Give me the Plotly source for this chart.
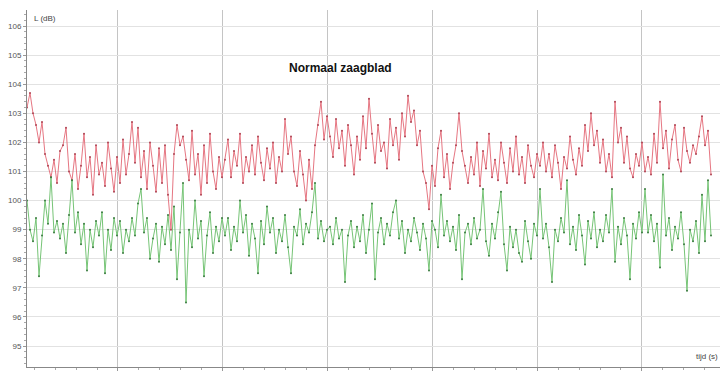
import plotly.graph_objects as go

# Sound level L (dB) per sample
red_levels = [
    103.2, 103.7, 103.0, 102.6, 102.0, 102.7, 101.6, 101.2, 100.8, 101.4, 100.6, 101.7, 101.9, 102.5, 101.0, 100.7,
    101.6, 100.4, 101.2, 102.3, 100.8, 101.5, 100.2, 101.9, 100.9, 101.3, 100.5, 102.0, 101.1, 100.3, 101.5,
    100.6, 102.1, 100.9, 101.6, 102.7, 101.3, 102.5, 100.8, 101.7, 100.4, 102.0, 101.2, 100.3, 101.8, 100.6, 101.9,
    100.2, 99.0, 101.6, 102.6, 101.9, 102.2, 101.4, 100.7, 102.4, 100.9, 101.6, 100.2, 101.9, 100.6, 102.3, 101.0,
    100.4, 101.5, 100.8,
    101.4, 102.1, 100.8, 101.7, 101.2, 102.3, 100.6, 101.5, 101.0, 101.9, 100.9, 102.2, 101.3, 100.7, 101.8, 101.1,
    102.0, 100.6, 101.5, 101.0, 102.8, 101.6, 102.2, 101.0, 100.5, 101.7, 100.9, 100.0, 101.4, 100.4, 101.9, 102.6,
    103.4, 102.1, 102.9,
    102.2, 101.5, 102.8, 101.8, 102.4, 101.2, 102.6, 101.9, 100.9, 102.2, 101.4, 102.9, 101.8, 103.5, 102.3, 101.3,
    102.6, 101.7, 102.0, 101.1, 102.8, 101.9, 102.5, 101.4, 103.0, 102.2, 103.6, 102.7, 103.1, 101.9, 102.4, 101.0,
    100.6, 99.7, 101.2,
    100.5, 101.8, 102.4, 100.8, 101.6, 100.4, 101.3, 101.9, 103.0, 101.7, 101.2, 100.6, 101.5, 100.9, 102.0, 100.5,
    101.7, 101.1, 102.3, 100.8, 101.4, 100.7, 102.0, 101.3, 100.6, 101.8, 101.0, 102.2, 100.9, 101.5, 100.6, 101.9,
    101.2, 100.8, 101.6,
    101.2, 102.0, 101.0, 101.6, 100.8, 101.9, 101.3, 100.4, 101.5, 101.1, 102.2, 101.4, 100.9, 101.8, 101.2, 102.6,
    101.7, 103.0, 101.9, 102.4, 101.3, 102.1, 101.0, 101.6, 100.8, 103.4, 102.0, 102.5, 101.3, 102.2, 101.1, 100.8,
    101.6, 101.2, 102.0,
    101.0, 101.5, 100.9, 102.3, 101.3, 103.4, 101.8, 102.4, 101.1, 102.1, 102.6, 101.4, 101.0, 102.5, 101.7, 101.3,
    101.9, 101.6, 102.2, 102.9, 101.9, 102.4, 100.9,
]

green_levels = [
    100.0, 99.0, 98.6, 99.4, 97.4, 98.8, 100.0, 99.2, 100.8, 98.9, 99.3, 98.7, 99.2, 98.2, 99.5, 100.7,
    98.9, 99.6, 98.5, 99.2, 97.6, 99.0, 98.4, 99.3, 98.8, 99.6, 97.5, 99.0, 98.3, 99.4, 98.8,
    99.3, 98.2, 99.0, 98.6, 99.4, 98.8, 99.9, 100.4, 98.9, 99.4, 98.0, 98.7, 99.2, 97.9, 99.1, 98.5,
    99.5, 98.3, 99.8, 97.3, 98.9, 100.6, 96.5, 99.0, 98.4, 100.0, 98.7, 99.3, 97.4, 98.8, 99.6, 98.2,
    99.1, 98.6, 99.4,
    98.8, 99.4, 98.3, 99.1, 98.6, 100.0, 98.9, 99.5, 98.1, 99.2, 98.7, 97.5, 99.3, 98.5, 99.8, 98.9,
    99.4, 98.2, 99.0, 98.6, 99.5, 98.4, 97.5, 99.1, 98.8, 99.7, 98.5, 99.2, 98.9, 99.6, 100.6, 98.7,
    99.3, 98.6, 99.0,
    99.1, 98.5, 99.4, 98.7, 99.0, 97.2, 98.8, 99.3, 98.4, 99.1, 98.6, 99.5, 98.2, 99.0, 99.9, 97.3,
    98.9, 99.4, 98.5, 99.2, 98.8, 99.6, 100.0, 98.7, 99.3, 98.2, 99.0, 98.6, 99.4, 98.9, 98.3, 99.2,
    98.7, 97.6, 99.3,
    99.0, 98.4, 100.2, 98.8, 99.3, 98.6, 99.1, 98.3, 99.5, 97.3, 98.9, 99.2, 98.5, 99.4, 98.7, 99.0,
    100.4, 98.6, 98.1, 99.2, 98.7, 99.6, 100.3, 98.5, 97.6, 99.1, 98.4, 99.0, 98.2, 97.9, 99.3, 98.6,
    98.0, 99.2, 98.8,
    100.4, 98.7, 99.2, 98.4, 97.2, 99.0, 98.6, 99.4, 98.9, 100.7, 98.5, 99.1, 98.3, 99.5, 98.8, 97.8,
    99.3, 98.7, 99.6, 98.4, 99.0, 98.6, 99.5, 98.9, 100.4, 97.9, 99.1, 98.5, 99.4, 98.8, 97.3, 99.2,
    98.7, 99.6, 98.9,
    100.4, 98.9, 99.5, 98.6, 99.2, 97.7, 100.9, 98.8, 99.4, 98.3, 99.1, 98.7, 99.6, 98.5, 96.9, 99.0,
    98.6, 99.3, 98.2, 100.2, 98.6, 100.7, 98.8,
]

samples = list(range(len(red_levels)))

title_text = "Normaal zaagblad"
y_label = "L (dB)"
x_label = "tijd (s)"
y_ticks = [95, 96, 97, 98, 99, 100, 101, 102, 103, 104, 105, 106]

fig = go.Figure()
fig.add_trace(go.Scatter(
    x=samples, y=red_levels, mode="lines+markers",
    line=dict(color="rgb(230,118,130)", width=1),
    marker=dict(color="rgb(175,70,85)", size=2),
    showlegend=False, hoverinfo="skip",
))
fig.add_trace(go.Scatter(
    x=samples, y=green_levels, mode="lines+markers",
    line=dict(color="rgb(118,196,118)", width=1),
    marker=dict(color="rgb(60,125,65)", size=2),
    showlegend=False, hoverinfo="skip",
))

fig.update_layout(
    width=724, height=372,
    margin=dict(l=27, r=4, t=10, b=5),
    paper_bgcolor="white", plot_bgcolor="white",
    font=dict(family="Liberation Sans, Arial, sans-serif", size=8, color="#555"),
    xaxis=dict(
        range=[0, 231], showticklabels=False, automargin=False,
        tick0=30.33, dtick=34.93,
        showgrid=True, gridcolor="#c4c4c4", gridwidth=1,
        zeroline=False, showline=True, linecolor="#888", linewidth=1,
        ticks="outside", ticklen=3, tickcolor="#999",
        minor=dict(dtick=34.93 / 5, tick0=30.33, ticks="outside", ticklen=2, tickcolor="#aaa"),
    ),
    yaxis=dict(
        range=[94.28, 106.55], tickvals=y_ticks, ticktext=[str(v) for v in y_ticks],
        automargin=False,
        showgrid=True, gridcolor="#e2e2e2", gridwidth=1,
        zeroline=False, showline=True, linecolor="#888", linewidth=1,
        ticks="outside", ticklen=3, tickcolor="#999",
        minor=dict(dtick=0.2, ticks="outside", ticklen=2, tickcolor="#aaa"),
        tickfont=dict(size=8, color="#555"),
    ),
    annotations=[
        dict(text="<b>" + title_text + "</b>", xref="paper", yref="paper",
             x=(340 - 27) / 693, y=1 - (68 - 10) / 357, xanchor="center", yanchor="middle",
             showarrow=False, font=dict(size=12, color="#111", family="Liberation Sans, Arial, sans-serif")),
        dict(text=y_label, xref="paper", yref="paper", x=0, y=1, xanchor="left", yanchor="top",
             xshift=5, yshift=-2, showarrow=False, font=dict(size=8, color="#444")),
        dict(text=x_label, xref="paper", yref="paper", x=1, y=0, xanchor="right", yanchor="bottom",
             xshift=0, yshift=4, showarrow=False, font=dict(size=8, color="#444")),
    ],
)

fig.write_html("out.html", config={"displayModeBar": False},
               post_script="document.body.style.margin='0';")
